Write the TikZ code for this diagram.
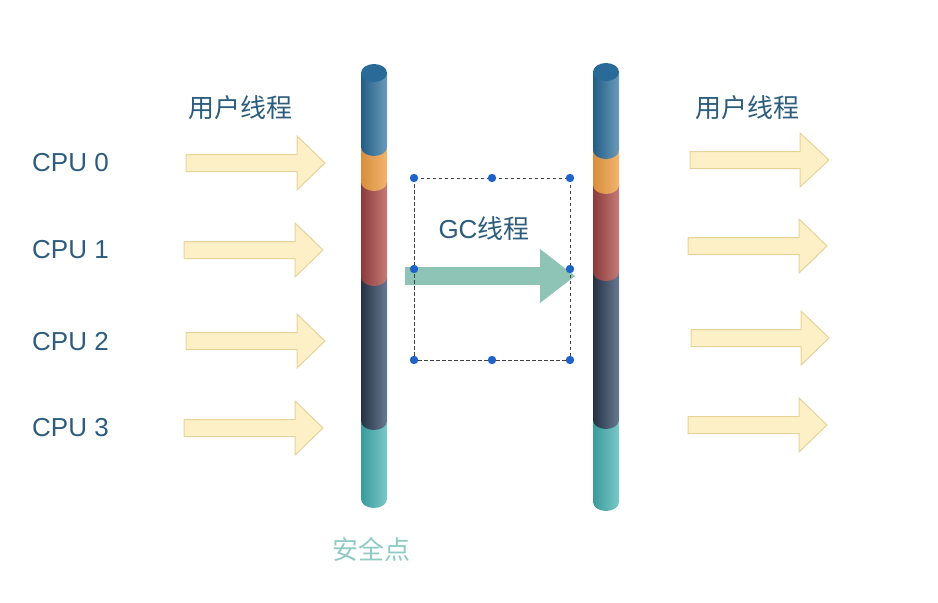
\documentclass[tikz,border=0pt]{standalone}
\usepackage{fontspec}
\setmainfont{Liberation Sans}
\newfontfamily\cjk{Noto Sans CJK SC}
\definecolor{txtblue}{HTML}{2D5D7E}
\definecolor{safeteal}{HTML}{8FCBC5}
\definecolor{yfill}{HTML}{FDF0C6}
\definecolor{ydraw}{HTML}{E6D29A}
\definecolor{gcfill}{HTML}{8EC4B6}
\definecolor{handle}{HTML}{1F63C6}
\definecolor{capblue}{HTML}{2A6A98}
\definecolor{tealL}{HTML}{3A9A9C}
\definecolor{tealR}{HTML}{7CC8C8}
\definecolor{darkL}{HTML}{243244}
\definecolor{darkR}{HTML}{687A92}
\definecolor{redL}{HTML}{8A3A3C}
\definecolor{redR}{HTML}{C67C76}
\definecolor{orL}{HTML}{D88E3E}
\definecolor{orR}{HTML}{F2B46C}
\definecolor{blueL}{HTML}{235D86}
\definecolor{blueR}{HTML}{6A9BBA}
\tikzset{
  cpulbl/.style={font=\fontsize{26}{30}\selectfont, text=txtblue, inner sep=0pt},
  cjklbl/.style={font=\cjk\fontsize{26}{30}\selectfont, text=txtblue, inner sep=0pt},
  safelbl/.style={font=\cjk\fontsize{26}{30}\selectfont, text=safeteal, inner sep=0pt},
  yarrow/.style={fill=yfill, draw=ydraw, line width=1pt, line join=miter},
  gcarrow/.style={fill=gcfill},
  selbox/.style={draw=black!75, line width=0.9pt, dash pattern=on 3.5pt off 2.5pt},
  handledot/.style={fill=handle},
}
% #1 style, #2 tail x, #3 head base x, #4 tip x, #5 centre y, #6 shaft half, #7 head half
\newcommand\fatarr[7]{\path[#1] ({#2},{-#5+#6}) -- ({#3},{-#5+#6}) -- ({#3},{-#5+#7}) -- ({#4},{-#5}) -- ({#3},{-#5-#7}) -- ({#3},{-#5-#6}) -- ({#2},{-#5-#6}) -- cycle;}
% #1 centre x, #2 top y, #3 bottom y, #4 left colour, #5 right colour
\newcommand\cylseg[5]{\path[left color=#4,right color=#5] ({#1-13},{-#2}) -- ({#1-13},{-#3}) arc[start angle=180,end angle=360,x radius=13,y radius=9] -- ({#1+13},{-#2}) -- cycle;}
\newcommand\pillar[7]{%
  \cylseg{#1}{#6}{#7}{tealL}{tealR}
  \cylseg{#1}{#5}{#6}{darkL}{darkR}
  \cylseg{#1}{#4}{#5}{redL}{redR}
  \cylseg{#1}{#3}{#4}{orL}{orR}
  \cylseg{#1}{#2}{#3}{blueL}{blueR}
  \path[fill=capblue] (#1,{-#2}) ellipse[x radius=13,y radius=9];
}
\begin{document}
\begin{tikzpicture}[x=1pt,y=1pt]
\useasboundingbox[fill=white] (0,0) rectangle (938,-603);

% labels
\node[cjklbl] (uleft) at (240,-108) {用户线程};
\node[cjklbl] (uright) at (747,-108) {用户线程};
\node[cpulbl, anchor=west] (cpu0) at (32,-163) {CPU 0};
\node[cpulbl, anchor=west] (cpu1) at (32,-250) {CPU 1};
\node[cpulbl, anchor=west] (cpu2) at (32,-342) {CPU 2};
\node[cpulbl, anchor=west] (cpu3) at (32,-428) {CPU 3};

% left user-thread arrows
\fatarr{yarrow}{186}{297}{325}{163}{8.5}{27}
\fatarr{yarrow}{184}{295}{323}{250}{8.5}{27}
\fatarr{yarrow}{186}{297}{325}{341}{8.5}{27}
\fatarr{yarrow}{184}{295}{323}{428}{8.5}{27}

% right user-thread arrows
\fatarr{yarrow}{690}{800}{829}{160}{8.5}{27}
\fatarr{yarrow}{688}{799}{827}{246}{8.5}{27}
\fatarr{yarrow}{691}{801}{829}{338}{8.5}{27}
\fatarr{yarrow}{688}{799}{827}{425}{8.5}{27}

% pillars
\pillar{374}{73}{147}{182}{277}{421}{499}
\pillar{606}{72}{150}{185}{272}{420}{502}

% GC arrow and selection box
\fatarr{gcarrow}{405}{540}{575}{276}{9}{27}
\node[cpulbl] (gc) at (484,-229) {GC{\cjk 线程}};
\draw[selbox] (414,-178) rectangle (570,-360);
\foreach \p in {(414,-178),(492,-178),(570,-178),(414,-269),(570,-269),(414,-360),(492,-360),(570,-360)}
  \fill[handledot] \p circle[radius=4.2];

\node[safelbl] (safe) at (371,-549) {安全点};
\end{tikzpicture}
\end{document}
